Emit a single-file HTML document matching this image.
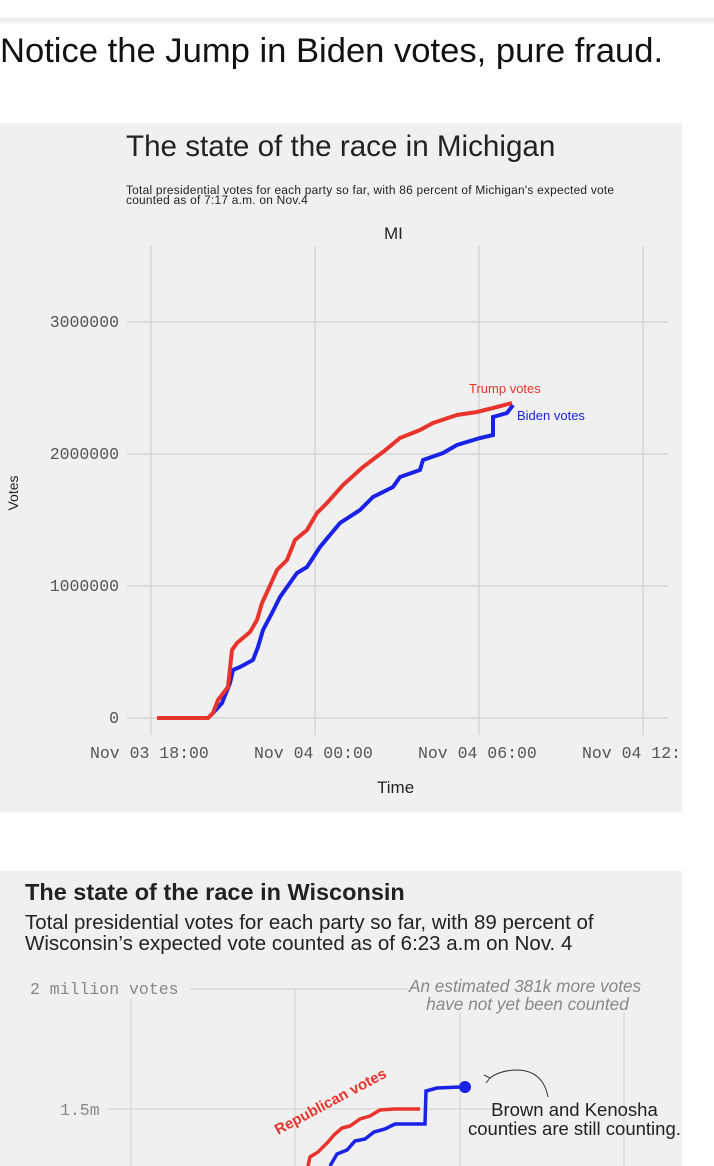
<!DOCTYPE html>
<html><head><meta charset="utf-8"><style>
body{margin:0;width:714px;height:1166px;background:#fff;overflow:hidden;font-family:"Liberation Sans",sans-serif;position:relative}
.t{position:absolute;white-space:nowrap}
.mono{font-family:"Liberation Mono",monospace;color:#555}
</style></head><body>
<div style="position:absolute;left:0;top:0;width:714px;height:18px;background:#fff"></div>
<div style="position:absolute;left:0;top:18px;width:714px;height:8px;background:linear-gradient(#eaeaea,#fff)"></div>
<div class="t" style="left:0;top:32px;font-size:34.6px;color:#111">Notice the Jump in Biden votes, pure fraud.</div>

<div style="position:absolute;left:0;top:123px;width:682px;height:689px;background:#f0f0f0"></div>
<div class="t" style="left:126px;top:130px;font-size:29.6px;color:#222">The state of the race in Michigan</div>
<div class="t" style="left:126px;top:185px;font-size:12.4px;color:#222;line-height:10px;transform:scaleX(0.96);transform-origin:left;letter-spacing:0.25px">Total presidential votes for each party so far, with 86 percent of Michigan's expected vote<br>counted as of 7:17 a.m. on Nov.4</div>
<div class="t" style="left:384px;top:224px;font-size:17px;color:#222">MI</div>
<svg style="position:absolute;left:0;top:0" width="714" height="812">
<g stroke="#d6d6d6" stroke-width="1.5">
<line x1="127" y1="322" x2="668" y2="322"/><line x1="127" y1="454" x2="668" y2="454"/><line x1="127" y1="586" x2="668" y2="586"/><line x1="127" y1="718" x2="668" y2="718"/>
<line x1="151" y1="246" x2="151" y2="735"/><line x1="315" y1="246" x2="315" y2="735"/><line x1="479" y1="246" x2="479" y2="735"/><line x1="643" y1="246" x2="643" y2="735"/>
</g>
<polyline fill="none" stroke="#1a22e8" stroke-width="4" points="208,718 213,713 222,703 230,683 233,670 240,667 253,660 258,647 263,630 272,613 280,597 297,573 307,567 320,547 340,523 360,510 373,497 393,487 400,477 420,470 423,460 443,453 457,445 480,438 493,435 493,417 507,413 513,405"/>
<polyline fill="none" stroke="#e8342c" stroke-width="4" points="157,718 208,718 213,713 218,700 228,687 232,650 237,643 250,632 257,620 262,603 268,590 277,570 287,560 295,540 307,530 317,513 327,503 343,485 363,467 383,452 400,438 420,430 433,423 457,415 477,412 493,408 512,403"/>
<text x="469" y="393" font-size="13" fill="#e8342c" font-family="Liberation Sans">Trump votes</text>
<text x="517" y="420" font-size="13" fill="#1a22e8" font-family="Liberation Sans">Biden votes</text>
<text x="18" y="493" font-size="14" fill="#222" font-family="Liberation Sans" transform="rotate(-90 18 493)" text-anchor="middle">Votes</text>
</svg>
<div class="t mono" style="right:595px;top:313px;font-size:16.5px">3000000</div>
<div class="t mono" style="right:595px;top:445px;font-size:16.5px">2000000</div>
<div class="t mono" style="right:595px;top:577px;font-size:16.5px">1000000</div>
<div class="t mono" style="right:595px;top:709px;font-size:16.5px">0</div>
<div class="t mono" style="left:90px;top:744px;font-size:16.5px">Nov 03 18:00</div>
<div class="t mono" style="left:254px;top:744px;font-size:16.5px">Nov 04 00:00</div>
<div class="t mono" style="left:418px;top:744px;font-size:16.5px">Nov 04 06:00</div>
<div class="t mono" style="left:582px;top:744px;font-size:16.5px">Nov 04 12:</div>
<div class="t" style="left:377px;top:778px;font-size:17px;color:#222">Time</div>

<div style="position:absolute;left:0;top:871px;width:682px;height:295px;background:#f0f0f0"></div>
<div class="t" style="left:25px;top:879px;font-size:23.5px;font-weight:bold;color:#222">The state of the race in Wisconsin</div>
<div class="t" style="left:25px;top:912px;font-size:20.5px;color:#222;line-height:21px">Total presidential votes for each party so far, with 89 percent of<br>Wisconsin’s expected vote counted as of 6:23 a.m on Nov. 4</div>
<svg style="position:absolute;left:0;top:871px" width="714" height="295">
<g stroke="#d6d6d6" stroke-width="1.2">
<line x1="190" y1="118" x2="408" y2="118"/><line x1="107" y1="238" x2="498" y2="238"/>
<line x1="131" y1="127" x2="131" y2="295"/><line x1="295" y1="118" x2="295" y2="295"/><line x1="460" y1="142" x2="460" y2="295"/><line x1="624" y1="142" x2="624" y2="295"/>
</g>
<polyline fill="none" stroke="#1a22e8" stroke-width="3.5" points="330,295 337,283 347,279 355,270 365,268 374,261 385,258 395,253 415,253 425,253 426,220 437,217 460,216"/>
<polyline fill="none" stroke="#e8342c" stroke-width="3.5" points="308,295 310,286 318,281 328,271 334,264 342,257 350,255 360,248 370,245 380,239 395,238 420,238"/>
<circle cx="465" cy="216" r="6" fill="#1a22e8"/>
<text x="278" y="264" font-size="15" font-weight="bold" fill="#e8342c" font-family="Liberation Sans" transform="rotate(-28 278 264)">Republican votes</text>
<path d="M548,226 Q543,200 518,199 Q500,199 490,207" fill="none" stroke="#333" stroke-width="1"/>
<path d="M484,204 L490,207 L486,212" fill="none" stroke="#333" stroke-width="1"/>
</svg>
<div class="t mono" style="left:30px;top:980px;font-size:16.5px;color:#888">2 million votes</div>
<div class="t mono" style="left:60px;top:1101px;font-size:16.5px;color:#888">1.5m</div>
<div class="t" style="left:409px;top:977px;font-size:17.2px;font-style:italic;color:#888;text-align:center;line-height:18px">An estimated 381k more votes<br>&nbsp;have not yet been counted</div>
<div class="t" style="left:468px;top:1100px;font-size:18.5px;color:#222;text-align:center;line-height:19px">Brown and Kenosha<br>counties are still counting.</div>
</body></html>
